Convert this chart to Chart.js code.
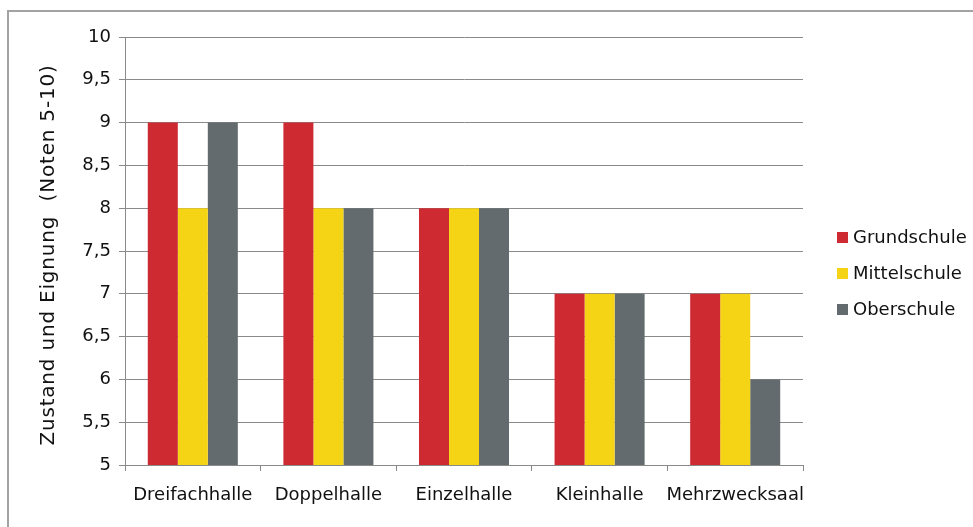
<!DOCTYPE html>
<html>
<head>
<meta charset="utf-8">
<script src="https://cdn.jsdelivr.net/npm/chart.js@4.4.1/dist/chart.umd.min.js"></script>
<style>
  body { margin: 0; background: #fff; overflow: hidden; }
  #wrap { position: relative; width: 973px; height: 527px; overflow: hidden; }
  #frame { position: absolute; left: 7px; top: 10px; width: 1000px; height: 600px; border: 2px solid #a3a3a3; }
  canvas { position: absolute; left: 0; top: 0; }
</style>
</head>
<body>
<div id="wrap">
  <div id="frame"></div>
  <canvas id="myChart" width="973" height="527"></canvas>
</div>
<script>
const categories = ["Dreifachhalle", "Doppelhalle", "Einzelhalle", "Kleinhalle", "Mehrzwecksaal"];
const seriesNames = ["Grundschule", "Mittelschule", "Oberschule"];
const grundschule = [9, 9, 8, 7, 7];
const mittelschule = [8, 8, 8, 7, 7];
const oberschule = [9, 8, 8, 7, 6];
const colors = ["#cd2a31", "#f5d415", "#646b6e"];
const yTitle = "Zustand und Eignung  (Noten 5-10)";

const FONT = "'DejaVu Sans', Verdana, sans-serif";
const gridColor = "#8a8a8a";

// y title and legend drawn by hand so they sit where the original has them
const extras = {
  id: "extras",
  afterDraw(chart) {
    const ctx = chart.ctx;
    ctx.save();
    ctx.font = "20px " + FONT;
    ctx.letterSpacing = "0.8px";
    ctx.fillStyle = "#111";
    ctx.textBaseline = "middle";
    ctx.textAlign = "center";
    ctx.translate(49, 255);
    ctx.rotate(-Math.PI / 2);
    ctx.fillText(yTitle, 0, 0);
    ctx.restore();

    ctx.save();
    ctx.font = "18px " + FONT;
    ctx.textBaseline = "middle";
    chart.data.datasets.forEach((ds, i) => {
      const y = 237 + i * 36;
      ctx.fillStyle = ds.backgroundColor;
      ctx.fillRect(837, y - 5, 11, 11);
      ctx.fillStyle = "#111";
      ctx.fillText(ds.label, 853, y + 1);
    });
    ctx.restore();
  }
};

new Chart(document.getElementById("myChart").getContext("2d"), {
  type: "bar",
  data: {
    labels: categories,
    datasets: [
      { label: seriesNames[0], data: grundschule, backgroundColor: colors[0] },
      { label: seriesNames[1], data: mittelschule, backgroundColor: colors[1] },
      { label: seriesNames[2], data: oberschule, backgroundColor: colors[2] },
    ],
  },
  options: {
    responsive: false,
    animation: false,
    layout: { padding: { left: 0, right: 170, top: 37, bottom: 0 } },
    datasets: { bar: { categoryPercentage: 0.664, barPercentage: 1 } },
    plugins: { legend: { display: false }, tooltip: { enabled: false } },
    scales: {
      x: {
        afterFit: (s) => { s.height = 62; },
        grid: { drawOnChartArea: false, color: gridColor, tickLength: 6, offset: true },
        border: { color: gridColor },
        ticks: { color: "#111", font: { family: FONT, size: 18 }, padding: 14, maxRotation: 0, autoSkip: false },
      },
      y: {
        min: 5,
        max: 10,
        afterFit: (s) => { s.width = 125; },
        grid: { color: gridColor, tickLength: 6 },
        border: { color: gridColor },
        ticks: {
          stepSize: 0.5,
          color: "#111",
          padding: 8,
          font: { family: FONT, size: 18 },
          callback: (v) => String(v).replace(".", ","),
        },
      },
    },
  },
  plugins: [extras],
});
</script>
</body>
</html>
